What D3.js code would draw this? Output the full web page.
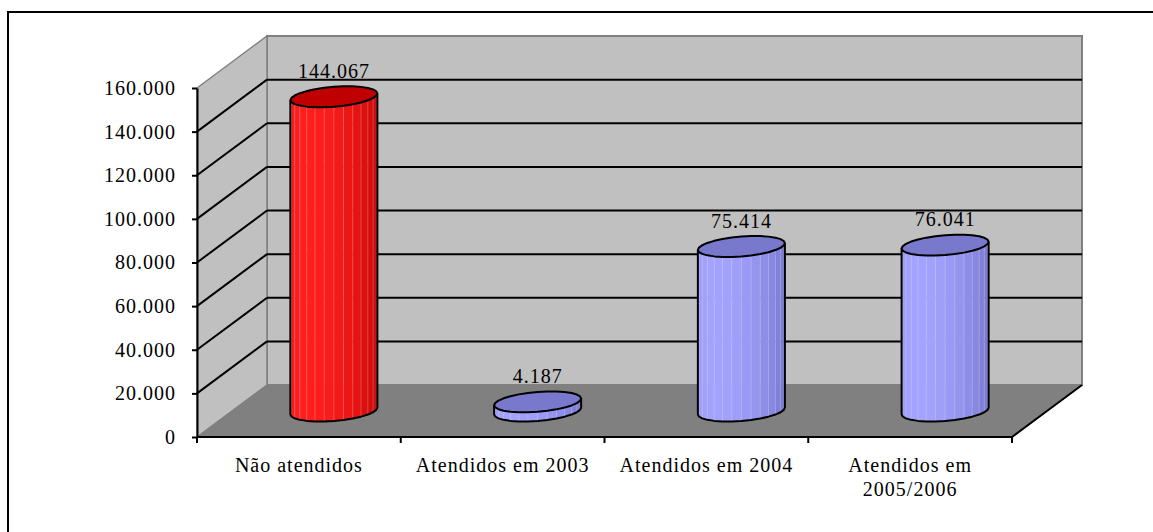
<!DOCTYPE html>
<html>
<head>
<meta charset="utf-8">
<script src="https://cdn.jsdelivr.net/npm/d3@7"></script>
<style>
  body { margin: 0; background: #fff; }
  svg text { font-family: "Liberation Serif", "Times New Roman", serif; }
</style>
</head>
<body>
<svg id="chart"></svg>
<script>
// data
var categories = ["Não atendidos", "Atendidos em 2003", "Atendidos em 2004", "Atendidos em 2005/2006"];
var values = [144067, 4187, 75414, 76041];
var yTicks = [0, 20000, 40000, 60000, 80000, 100000, 120000, 140000, 160000];

var width = 1153, height = 532;
var svg = d3.select("#chart").attr("width", width).attr("height", height);

// pt-BR number format: 144.067
var locale = d3.formatLocale({decimal: ",", thousands: ".", grouping: [3], currency: ["R$", ""]});
var fmt = locale.format(",d");

// plot box (front plane) and depth offset of the 3d box
var DX = 70, DY = -52;
var x = d3.scaleBand().domain(categories).range([197, 1012]).padding(0);
var y = d3.scaleLinear().domain([0, 160000]).range([437, 88]);

// outer frame (right/bottom sides fall outside the picture)
svg.append("rect")
  .attr("x", 8).attr("y", 12)
  .attr("width", 1300).attr("height", 700)
  .attr("fill", "none").attr("stroke", "#000").attr("stroke-width", 2);

var x0 = x.range()[0], x1 = x.range()[1];
var yTop = y(160000), yBase = y(0);

// back wall
svg.append("polygon")
  .attr("points", [[x0 + DX, yTop + DY], [x1 + DX, yTop + DY], [x1 + DX, yBase + DY], [x0 + DX, yBase + DY]].join(" "))
  .attr("fill", "#c0c0c0").attr("stroke", "#808080").attr("stroke-width", 2);

// left wall
svg.append("polygon")
  .attr("points", [[x0, yTop], [x0 + DX, yTop + DY], [x0 + DX, yBase + DY], [x0, yBase]].join(" "))
  .attr("fill", "#c0c0c0").attr("stroke", "#808080").attr("stroke-width", 1.5);

// floor
svg.append("polygon")
  .attr("points", [[x0, yBase], [x0 + DX, yBase + DY], [x1 + DX, yBase + DY], [x1, yBase]].join(" "))
  .attr("fill", "#808080").attr("stroke", "#808080").attr("stroke-width", 1);

// floor front and right edges
svg.append("path")
  .attr("d", "M" + x0 + "," + yBase + "L" + x1 + "," + yBase + "L" + (x1 + DX) + "," + (yBase + DY))
  .attr("fill", "none").attr("stroke", "#000").attr("stroke-width", 2);

// gridlines on back and left walls
var grid = yTicks.filter(function(d) { return d > 0 && d < 160000; });
svg.append("g").selectAll("line.back")
  .data(grid).enter().append("line")
  .attr("x1", x0 + DX).attr("x2", x1 + DX)
  .attr("y1", function(d) { return y(d) + DY; })
  .attr("y2", function(d) { return y(d) + DY; })
  .attr("stroke", "#000").attr("stroke-width", 2);
svg.append("g").selectAll("line.side")
  .data(grid).enter().append("line")
  .attr("x1", x0).attr("x2", x0 + DX)
  .attr("y1", function(d) { return y(d); })
  .attr("y2", function(d) { return y(d) + DY; })
  .attr("stroke", "#000").attr("stroke-width", 2);

// y axis
var yAxis = svg.append("g")
  .attr("transform", "translate(" + x0 + ",0)")
  .call(d3.axisLeft(y).tickValues(yTicks).tickFormat(fmt).tickSize(5).tickSizeOuter(0).tickPadding(16));
yAxis.select(".domain").attr("stroke", "#000").attr("stroke-width", 2);
yAxis.selectAll(".tick line").attr("stroke", "#000").attr("stroke-width", 2);
yAxis.selectAll(".tick text")
  .attr("font-family", "Liberation Serif, Times New Roman, serif")
  .attr("font-size", "20px").attr("letter-spacing", "1px").attr("fill", "#000");

// category ticks at band edges
var edges = categories.map(function(c) { return x(c); }).concat([x1]);
svg.append("g").selectAll("line")
  .data(edges).enter().append("line")
  .attr("x1", function(d) { return d; }).attr("x2", function(d) { return d; })
  .attr("y1", yBase).attr("y2", yBase + 6)
  .attr("stroke", "#000").attr("stroke-width", 2);

// category labels, wrapped when wider than the band
var catText = svg.append("g").selectAll("text")
  .data(categories).enter().append("text")
  .attr("x", function(d) { return x(d) + x.bandwidth() / 2; })
  .attr("y", yBase + 35)
  .attr("text-anchor", "middle")
  .attr("font-size", "20px").attr("letter-spacing", "1px").attr("fill", "#000")
  .text(function(d) { return d; });

catText.each(function(d) {
  var t = d3.select(this);
  if (this.getComputedTextLength() < x.bandwidth() - 10) return;
  var words = d.split(" ");
  var cut = words.length - 1;
  var cx = +t.attr("x");
  t.text(null);
  t.append("tspan").attr("x", cx).attr("dy", 0).text(words.slice(0, cut).join(" "));
  t.append("tspan").attr("x", cx).attr("dy", 24).text(words.slice(cut).join(" "));
});

// cylinders
var palettes = [
  {light: "#ff1e1e", dark: "#b80000", top: "#c00000"},
  {light: "#a3a3ff", dark: "#6a6ac2", top: "#7878cc"}
];
var RX = 41.2, KX = 14, KY = -10.5, N = 14;
var t0 = Math.atan2(KX, RX);

function pt(cx, cy, t) {
  return [cx + RX * Math.cos(t) + KX * Math.sin(t), cy + KY * Math.sin(t)];
}

var cyl = svg.append("g").selectAll("g")
  .data(values).enter().append("g");

cyl.each(function(v, i) {
  var g = d3.select(this);
  var pal = i === 0 ? palettes[0] : palettes[1];
  var cx = x(categories[i]) + x.bandwidth() / 2 + DX / 2;
  var cyB = y(0) + DY / 2;
  var cyT = y(v) + DY / 2;
  var tStart = t0 + Math.PI;
  var tLight = tStart + 0.3 * Math.PI;
  var shade = d3.interpolateRgb(pal.dark, pal.light);

  // side facets
  for (var j = 0; j < N; j++) {
    var ta = tStart + j * Math.PI / N, tb = tStart + (j + 1) * Math.PI / N;
    var b = Math.pow(0.5 + 0.5 * Math.cos((ta + tb) / 2 - tLight), 1.2);
    var col = shade(b);
    g.append("polygon")
      .attr("points", [pt(cx, cyT, ta), pt(cx, cyT, tb), pt(cx, cyB, tb), pt(cx, cyB, ta)].join(" "))
      .attr("fill", col).attr("stroke", col).attr("stroke-width", 0.5);
    if (j > 0) {
      var p1 = pt(cx, cyT, ta), p2 = pt(cx, cyB, ta);
      g.append("line")
        .attr("x1", p1[0]).attr("y1", p1[1]).attr("x2", p2[0]).attr("y2", p2[1])
        .attr("stroke", "rgba(255,255,255,0.3)").attr("stroke-width", 0.8);
    }
  }

  // outline of the side
  var outline = [pt(cx, cyT, tStart)];
  for (var k = 0; k <= N; k++) outline.push(pt(cx, cyB, tStart + k * Math.PI / N));
  outline.push(pt(cx, cyT, tStart + Math.PI));
  g.append("path")
    .attr("d", d3.line()(outline))
    .attr("fill", "none").attr("stroke", "#000").attr("stroke-width", 2).attr("stroke-linejoin", "round");

  // top cap
  var cap = d3.range(2 * N).map(function(k) { return pt(cx, cyT, tStart + k * Math.PI / N); });
  g.append("polygon")
    .attr("points", cap.join(" "))
    .attr("fill", pal.top).attr("stroke", "#000").attr("stroke-width", 2).attr("stroke-linejoin", "round");

  // value label
  g.append("text")
    .attr("x", cx).attr("y", cyT - 19)
    .attr("text-anchor", "middle")
    .attr("font-size", "20px").attr("letter-spacing", "1px").attr("fill", "#000")
    .text(fmt(v));
});
</script>
</body>
</html>
